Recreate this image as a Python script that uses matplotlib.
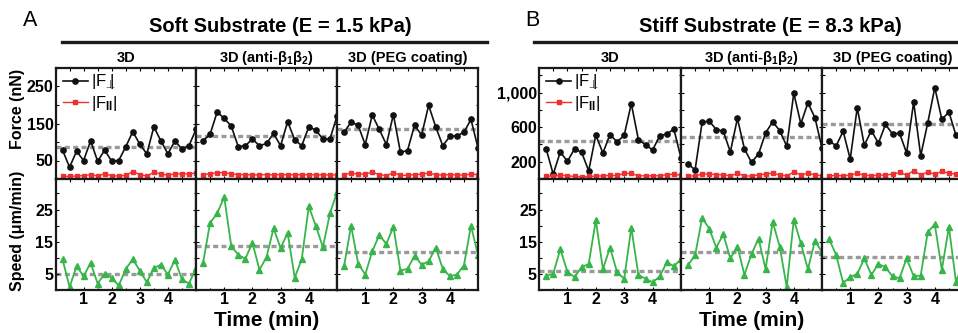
import matplotlib.pyplot as plt
from matplotlib.lines import Line2D
from matplotlib.ticker import MultipleLocator

# Fuentes tipo Arial
plt.rcParams['font.family'] = ['Liberation Sans', 'DejaVu Sans']
plt.rcParams['mathtext.fontset'] = 'custom'
plt.rcParams['mathtext.rm'] = 'Liberation Sans'
plt.rcParams['mathtext.bf'] = 'Liberation Sans:bold'
plt.rcParams['mathtext.it'] = 'Liberation Sans:italic'

# Datos
tiempo = [0.25, 0.5, 0.75, 1.0, 1.25, 1.5, 1.75, 2.0, 2.25, 2.5,
          2.75, 3.0, 3.25, 3.5, 3.75, 4.0, 4.25, 4.5, 4.75, 5.0]
columnas = ['3D', '3D (anti-β$_\\mathbf{1}$β$_\\mathbf{2}$)', '3D (PEG coating)']

# Sustrato blando (E = 1.5 kPa)
fperp_blando_3d = [78, 32, 75, 50, 103, 48, 78, 48, 50, 87, 128, 94, 68, 141, 103, 68, 103, 81, 90, 134]
fpar_blando_3d = [7, 7, 8, 9, 12, 8, 14, 9, 8, 10, 20, 12, 8, 18, 14, 10, 14, 14, 14, 16]
fperp_blando_anti = [103, 121, 181, 164, 143, 87, 90, 108, 90, 96, 123, 90, 155, 106, 90, 141, 132, 108, 108, 170]
fpar_blando_anti = [12, 14, 17, 17, 14, 12, 12, 11, 11, 12, 11, 12, 11, 12, 11, 12, 11, 11, 11, 11]
fperp_blando_peg = [126, 154, 145, 93, 173, 134, 93, 174, 72, 77, 145, 119, 199, 141, 90, 115, 117, 126, 161, 84]
fpar_blando_peg = [12, 16, 13, 14, 18, 12, 9, 17, 10, 10, 12, 13, 16, 12, 10, 12, 11, 11, 13, 12]
media_f_blando = [87, 117, 134]

v_blando_3d = [9.6, 0.9, 7.4, 4.3, 8.4, 2.0, 5.1, 3.8, 1.4, 6.5, 9.6, 6.0, 2.4, 6.8, 7.9, 4.8, 9.4, 3.3, 2.0, 6.8]
v_blando_anti = [8.4, 20.9, 23.8, 28.9, 13.7, 10.9, 9.7, 14.7, 6.3, 10.2, 19.2, 13.0, 17.8, 3.8, 9.6, 26.0, 19.9, 13.3, 23.8, 30.4]
v_blando_peg = [7.4, 20.0, 8.2, 4.8, 12.0, 17.1, 14.3, 19.7, 6.0, 6.6, 10.6, 7.9, 8.9, 13.2, 6.6, 4.3, 4.8, 7.6, 20.0, 10.9]
media_v_blando = [5.0, 13.7, 11.7]

# Sustrato rigido (E = 8.3 kPa)
fperp_rigido_3d = [351, 56, 313, 204, 348, 309, 95, 507, 301, 515, 429, 507, 872, 456, 398, 336, 499, 522, 577, 243]
fpar_rigido_3d = [37, 29, 45, 37, 29, 25, 29, 33, 37, 41, 41, 64, 64, 37, 37, 37, 37, 49, 56, 41]
fperp_rigido_anti = [173, 107, 658, 670, 573, 553, 313, 701, 348, 192, 289, 534, 662, 561, 379, 992, 639, 883, 709, 359]
fpar_rigido_anti = [33, 37, 56, 60, 49, 49, 37, 64, 37, 33, 49, 56, 68, 45, 37, 80, 49, 64, 49, 37]
fperp_rigido_peg = [445, 383, 553, 231, 825, 390, 561, 414, 631, 522, 530, 301, 891, 270, 650, 1058, 689, 775, 507, 560]
fpar_rigido_peg = [37, 41, 37, 45, 64, 45, 37, 45, 45, 56, 76, 45, 95, 49, 80, 56, 87, 68, 56, 49]
media_f_rigido = [445, 487, 639]

v_rigido_3d = [4.5, 5.0, 12.7, 5.7, 4.0, 7.1, 8.1, 21.7, 6.5, 13.2, 5.5, 3.5, 19.4, 4.7, 3.5, 2.4, 4.2, 8.6, 7.4, 9.6]
v_rigido_anti = [7.8, 10.8, 22.4, 19.1, 13.2, 17.3, 9.8, 13.5, 4.7, 11.2, 16.0, 6.5, 21.2, 13.5, 0.9, 21.9, 14.5, 6.5, 15.3, 11.7]
v_rigido_peg = [15.8, 11.0, 2.2, 4.0, 5.0, 9.8, 4.7, 8.1, 7.1, 4.2, 3.7, 9.8, 4.3, 4.5, 18.0, 20.4, 6.3, 19.6, 2.6, 8.0]
media_v_rigido = [6.0, 11.7, 10.4]

W, H = 958, 333
fig = plt.figure(figsize=(W / 100, H / 100), dpi=100)

NEGRO = '#111111'
ROJO = '#ee3030'
VERDE = '#38b54a'
GRIS = '#9a9a9a'


def eje(x0, x1, y0, y1):
    # posicion en pixeles (origen arriba a la izquierda)
    return fig.add_axes([x0 / W, 1 - y1 / H, (x1 - x0) / W, (y1 - y0) / H])


def estilo(ax):
    for s in ax.spines.values():
        s.set_linewidth(1.6)
        s.set_color('#1a1a1a')
    ax.tick_params(which='both', direction='in', top=True, right=True,
                   length=2.5, width=0.8, labelsize=11.5, pad=1.5)
    ax.tick_params(which='minor', length=1.8)
    for lab in ax.get_xticklabels() + ax.get_yticklabels():
        lab.set_fontweight('bold')


def panel(x_cols, fperp, fpar, media_f, vel, media_v, f_lim, f_ticks, f_labels,
          f_minor, titulo, letra, x_titulo, barra, x_letra, con_ylabel):
    for i in range(3):
        x0, x1 = x_cols[i]
        axf = eje(x0, x1, 68, 179)
        axv = eje(x0, x1, 179, 290)

        axf.plot(tiempo, fperp[i], '-o', color=NEGRO, lw=1.2, ms=3.8,
                 label='|F$\\!_{\\bot}\\!\\!\\!$|')
        axf.plot(tiempo, fpar[i], '-s', color=ROJO, lw=1.0, ms=3.0,
                 label='|F$_{\\mathbf{II}}$|')
        axf.axhline(media_f[i], color=GRIS, lw=2.4, dashes=(1.5, 1.0), zorder=1)
        axf.set_xlim(0, 5)
        axf.set_ylim(*f_lim)
        axf.set_yticks(f_ticks)
        axf.yaxis.set_minor_locator(MultipleLocator(f_minor))
        axf.xaxis.set_major_locator(MultipleLocator(0.5))
        axf.set_xticklabels([])

        axv.plot(tiempo, vel[i], '-^', color=VERDE, lw=1.3, ms=4.5)
        axv.axhline(media_v[i], color=GRIS, lw=2.4, dashes=(1.5, 1.0), zorder=1)
        axv.set_xlim(0, 5)
        axv.set_ylim(0, 34.5)
        axv.set_yticks([5, 15, 25])
        axv.yaxis.set_minor_locator(MultipleLocator(5))
        axv.set_xticks([1, 2, 3, 4])
        axv.xaxis.set_minor_locator(MultipleLocator(0.5))

        if i == 0:
            axf.set_yticklabels(f_labels)
            axf.legend(loc='upper left', bbox_to_anchor=(-0.02, 1.05), frameon=False,
                       fontsize=12, handlelength=1.5, handletextpad=0.2,
                       labelspacing=0.15, borderaxespad=0.2)
        else:
            axf.set_yticklabels([])
            axv.set_yticklabels([])

        estilo(axf)
        estilo(axv)
        fig.text((x0 + x1) / 2 / W, 1 - 58 / H, columnas[i], ha='center', va='center',
                 fontsize=10.5, fontweight='bold')

    fig.text(x_titulo / W, 1 - 27 / H, titulo, ha='center', va='center',
             fontsize=14.5, fontweight='bold')
    fig.text(x_letra / W, 1 - 21 / H, letra, ha='center', va='center', fontsize=15.5)
    fig.add_artist(Line2D([barra[0] / W, barra[1] / W], [1 - 42 / H, 1 - 42 / H],
                          color='#1a1a1a', lw=2.4))
    fig.text((x_cols[1][0] + x_cols[1][1]) / 2 / W, 1 - 321 / H, 'Time (min)',
             ha='center', va='center', fontsize=15, fontweight='bold')
    if con_ylabel:
        fig.text(18 / W, 1 - 109 / H, 'Force (nN)', rotation=90, ha='center',
                 va='center', fontsize=11.5, fontweight='bold')
        fig.text(18 / W, 1 - 231 / H, 'Speed (μm/min)', rotation=90, ha='center',
                 va='center', fontsize=11.5, fontweight='bold')


panel([(55.5, 196), (196, 337), (337, 478)],
      [fperp_blando_3d, fperp_blando_anti, fperp_blando_peg],
      [fpar_blando_3d, fpar_blando_anti, fpar_blando_peg], media_f_blando,
      [v_blando_3d, v_blando_anti, v_blando_peg], media_v_blando,
      (0, 300), [50, 150, 250], ['50', '150', '250'], 50,
      'Soft Substrate (E = 1.5 kPa)', 'A', 280, (62, 487), 30, True)

panel([(539, 681), (681, 822), (822, 963)],
      [fperp_rigido_3d, fperp_rigido_anti, fperp_rigido_peg],
      [fpar_rigido_3d, fpar_rigido_anti, fpar_rigido_peg], media_f_rigido,
      [v_rigido_3d, v_rigido_anti, v_rigido_peg], media_v_rigido,
      (0, 1285), [200, 600, 1000], ['200', '600', '1,000'], 200,
      'Stiff Substrate (E = 8.3 kPa)', 'B', 770, (534, 958), 532, False)

plt.savefig('out.png', dpi=100)
